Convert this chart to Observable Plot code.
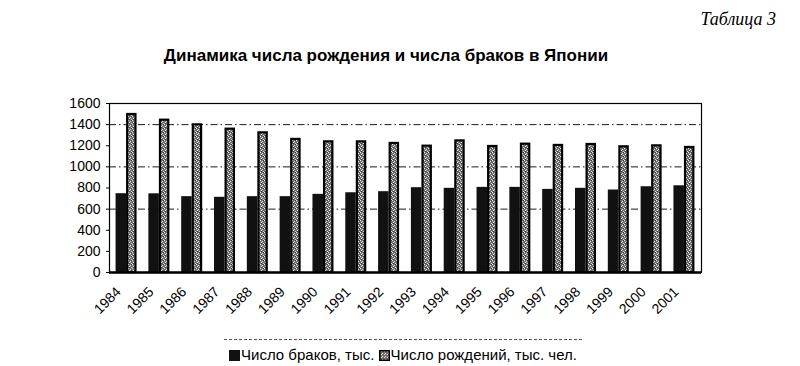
<!DOCTYPE html>
<html>
<head>
<meta charset="utf-8">
<script src="https://cdn.jsdelivr.net/npm/d3@7"></script>
<script src="https://cdn.jsdelivr.net/npm/@observablehq/plot@0.6"></script>
<style>
  html, body { margin: 0; padding: 0; background: #fff; }
  #wrap { position: relative; width: 800px; height: 366px; overflow: hidden; font-family: "Liberation Sans", Arial, sans-serif; color: #000; }
  #tab { position: absolute; right: 24px; top: 9px; font-family: "Liberation Serif", "Times New Roman", serif; font-style: italic; font-size: 18px; }
  #title { position: absolute; left: 0; width: 772px; top: 46px; text-align: center; font-weight: bold; font-size: 17px; }
  #chart { position: absolute; left: 0; top: 80px; }
  #legend { position: absolute; left: 224px; width: 358px; top: 339px; border-top: 1px dashed #555; padding-top: 6px; font-size: 15px; text-align: center; white-space: nowrap; }
  #legend svg { vertical-align: -1px; margin-right: 1px; }
</style>
</head>
<body>
<div id="wrap">
  <div id="tab">Таблица 3</div>
  <div id="title">Динамика числа рождения и числа браков в Японии</div>
  <div id="chart"></div>
  <div id="legend">
    <svg width="11" height="11"><rect width="11" height="11" fill="#111"/></svg>Число браков, тыс.
    <svg width="11" height="11"><defs><pattern id="stipL" width="3" height="3" patternUnits="userSpaceOnUse"><rect width="3" height="3" fill="#6e6e6e"/><rect width="1" height="1" fill="#eee"/><rect x="2" y="1" width="1" height="1" fill="#ddd"/></pattern></defs><rect x="0.75" y="0.75" width="9.5" height="9.5" fill="url(#stipL)" stroke="#000" stroke-width="1.5"/></svg>Число рождений, тыс. чел.
  </div>
</div>
<script>
const years = ["1984","1985","1986","1987","1988","1989","1990","1991","1992","1993","1994","1995","1996","1997","1998","1999","2000","2001"];
const marriages = [746, 745, 718, 712, 718, 718, 740, 755, 765, 803, 797, 806, 806, 787, 797, 781, 812, 821];
const births = [1496, 1442, 1398, 1357, 1322, 1260, 1237, 1237, 1222, 1196, 1246, 1193, 1215, 1203, 1212, 1190, 1199, 1184];
const yTicks = [0, 200, 400, 600, 800, 1000, 1200, 1400, 1600];
const gridLevels = [600, 1000, 1400];

const data = years.map((y, i) => ({year: y, marriages: marriages[i], births: births[i]}));

const W = 800, ML = 109, MR = 99, PI = 0.36, PO = 0.2;
const step = (W - ML - MR) / (years.length - PI + 2 * PO);
const half = step * (1 - PI) / 2;

const chart = Plot.plot({
  width: W, height: 255,
  marginTop: 23, marginBottom: 63, marginLeft: ML, marginRight: MR,
  style: {fontFamily: "'Liberation Sans', Arial, sans-serif", fontSize: "14px", color: "#000", background: "transparent"},
  x: {domain: years, paddingInner: PI, paddingOuter: PO, round: false, label: null},
  y: {domain: [0, 1600], label: null},
  marks: [
    Plot.ruleY(gridLevels, {stroke: "#000", strokeDasharray: "7,3,1.5,3", strokeWidth: 1, strokeOpacity: 0.9}),
    Plot.frame({stroke: "#000", strokeWidth: 1.2}),
    Plot.barY(data, {x: "year", y: "marriages", fill: "#111", insetRight: half}),
    Plot.barY(data, {x: "year", y: "births", fill: "url(#stipple)", stroke: "#000", strokeWidth: 2.2, insetLeft: half + 1.1, insetRight: 1.1}),
    Plot.ruleY([0], {stroke: "#000", strokeWidth: 2.5}),
    Plot.axisY({ticks: yTicks, tickFormat: d => String(d), tickSize: 3, tickPadding: 6, fontSize: 14, label: null}),
    Plot.axisX({tickRotate: -45, tickSize: 0, tickPadding: 17, dx: -8, fontSize: 14, label: null})
  ]
});

const ns = "http://www.w3.org/2000/svg";
const defs = document.createElementNS(ns, "defs");
defs.innerHTML = '<pattern id="stipple" width="4" height="4" patternUnits="userSpaceOnUse">' +
  '<rect width="4" height="4" fill="#707070"/>' +
  '<rect x="0" y="0" width="1" height="1" fill="#f0f0f0"/>' +
  '<rect x="2" y="1" width="1" height="1" fill="#e0e0e0"/>' +
  '<rect x="1" y="2" width="1" height="1" fill="#f5f5f5"/>' +
  '<rect x="3" y="3" width="1" height="1" fill="#d8d8d8"/>' +
  '<rect x="3" y="0" width="1" height="1" fill="#3a3a3a"/>' +
  '<rect x="1" y="3" width="1" height="1" fill="#3a3a3a"/>' +
  '</pattern>';
chart.insertBefore(defs, chart.firstChild);
document.getElementById("chart").appendChild(chart);
</script>
</body>
</html>
